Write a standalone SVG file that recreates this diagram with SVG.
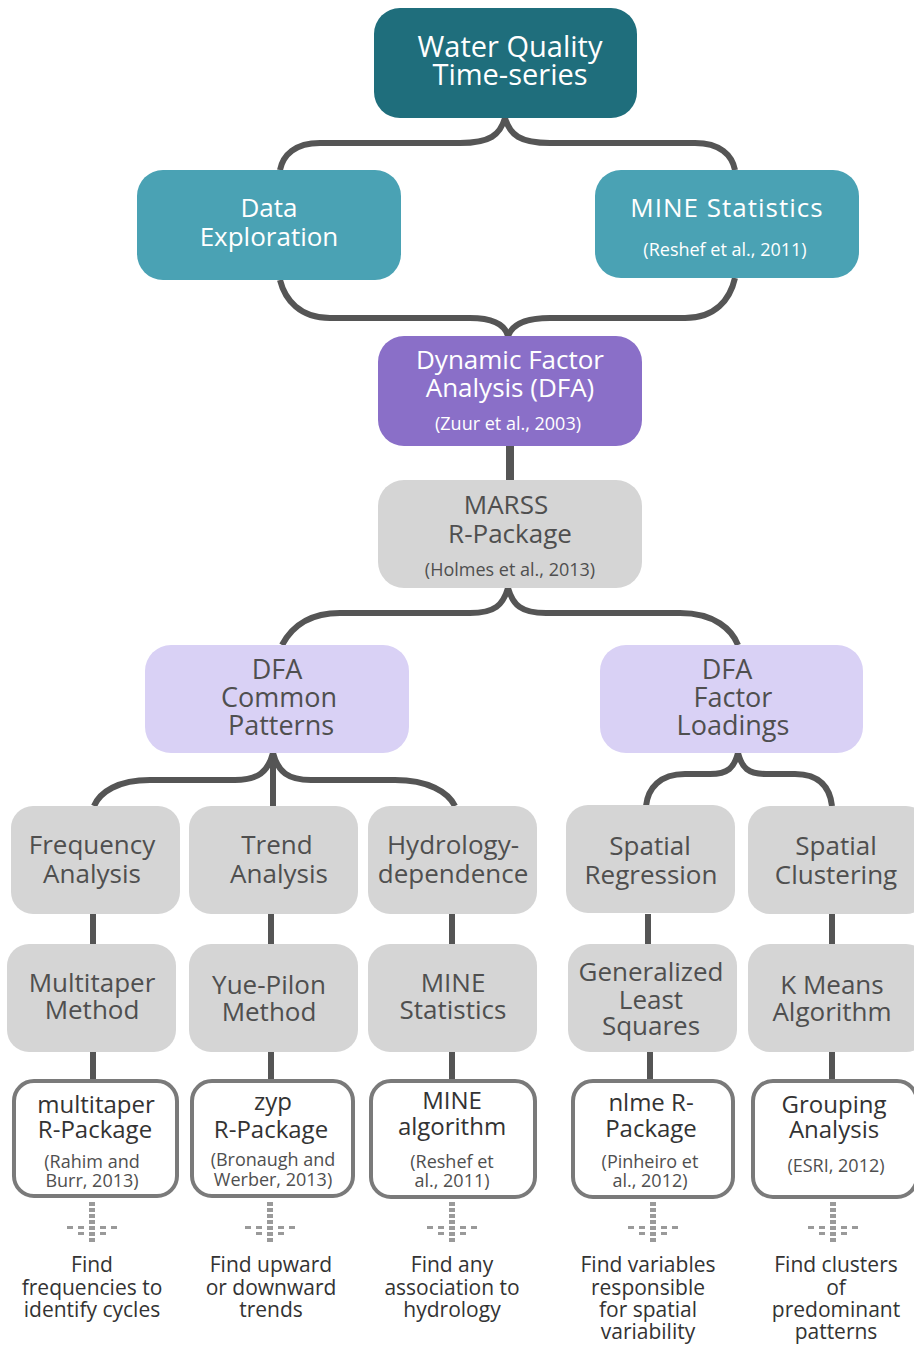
<svg xmlns="http://www.w3.org/2000/svg" width="914" height="1345" viewBox="0 0 914 1345">
<style>
.t{font-family:"Open Sans","Noto Sans","DejaVu Sans",sans-serif;text-anchor:middle}
.w{fill:#ffffff}
.g{fill:#4f4f4f}
.d{fill:#333333}
.h{font-size:27px}
.top{font-size:29px}
.m{font-size:26px}
.s{font-size:18px}
.b{font-size:24px}
.c{font-size:18px}
.x{font-size:21px}
.con{fill:none;stroke:#555555;stroke-width:6;stroke-linecap:butt}
.box3{fill:#ffffff;stroke:#7a7a7a;stroke-width:4}
.gray{fill:#d5d5d5}
.dot{fill:#9a9a9a}
</style>
<defs>
<g id="cross">
<rect x="-3" y="-23" width="6" height="4"/>
<rect x="-3" y="-17" width="6" height="4"/>
<rect x="-3" y="-11" width="6" height="4"/>
<rect x="-3" y="-5" width="6" height="4"/>
<rect x="-3" y="1" width="6" height="4"/>
<rect x="-3" y="7" width="6" height="4"/>
<rect x="-3" y="13" width="6" height="4"/>
<rect x="-25" y="1" width="6" height="3"/>
<rect x="-14" y="1" width="6" height="3"/>
<rect x="8" y="1" width="6" height="3"/>
<rect x="19" y="1" width="6" height="3"/>
<rect x="-14" y="7" width="6" height="3"/>
<rect x="8" y="7" width="6" height="3"/>
</g>
</defs>
<rect width="914" height="1345" fill="#ffffff"/>
<g id="connectors">
<path class="con" d="M505 118 C500 135 490 143 460 143 L320 143 C295 143 283 155 280 170"/>
<path class="con" d="M505 118 C510 135 520 143 550 143 L695 143 C720 143 732 155 735 170"/>
<path class="con" d="M280 280 C285 300 300 318 330 318 L470 318 C495 318 505 325 508 336"/>
<path class="con" d="M735 278 C730 300 715 318 685 318 L550 318 C525 318 512 325 508 336"/>
<path class="con" style="stroke-width:8" d="M510 446 L510 480"/>
<path class="con" d="M508 588 C503 605 495 613 470 613 L340 613 C305 613 290 630 282 645"/>
<path class="con" d="M508 588 C513 605 521 613 546 613 L680 613 C715 613 732 630 738 645"/>
<path class="con" d="M273 753 C268 772 258 780 235 780 L150 780 C118 780 100 792 94 806"/>
<path class="con" d="M273 753 L273 806"/>
<path class="con" d="M273 753 C278 772 288 780 311 780 L395 780 C428 780 448 792 455 806"/>
<path class="con" d="M738 753 C734 768 728 774 710 774 L685 774 C660 774 648 788 646 806"/>
<path class="con" d="M738 753 C742 768 748 774 766 774 L795 774 C820 774 830 788 832 806"/>
<path class="con" d="M93 914 L93 944 M271 914 L271 944 M452 914 L452 944 M648 914 L648 944 M832 914 L832 944"/>
<path class="con" d="M93 1052 L93 1080 M271 1052 L271 1080 M452 1052 L452 1080 M650 1052 L650 1080 M832 1052 L832 1080"/>
</g>
<g id="n-wq">
<rect x="374" y="8" width="263" height="110" rx="26" fill="#1f6e7c"/>
<text class="t w top" x="510" y="57">Water Quality</text>
<text class="t w top" x="510" y="85">Time-series</text>
</g>
<g id="n-de">
<rect x="137" y="170" width="264" height="110" rx="26" fill="#4aa2b4"/>
<text class="t w m" x="269" y="217">Data</text>
<text class="t w m" x="269" y="246">Exploration</text>
</g>
<g id="n-mine">
<rect x="595" y="170" width="264" height="108" rx="26" fill="#4aa2b4"/>
<text class="t w m" x="727" y="217" letter-spacing="1">MINE Statistics</text>
<text class="t w s" x="725" y="256">(Reshef et al., 2011)</text>
</g>
<g id="n-dfa">
<rect x="378" y="336" width="264" height="110" rx="26" fill="#8a6fc8"/>
<text class="t w m" x="510" y="369">Dynamic Factor</text>
<text class="t w m" x="510" y="397">Analysis (DFA)</text>
<text class="t w s" x="508" y="430">(Zuur et al., 2003)</text>
</g>
<g id="n-marss">
<rect x="378" y="480" width="264" height="108" rx="26" fill="#d5d5d5"/>
<text class="t g m" x="506" y="514">MARSS</text>
<text class="t g m" x="510" y="543">R-Package</text>
<text class="t g s" x="510" y="576">(Holmes et al., 2013)</text>
</g>
<g id="n-dfacp">
<rect x="145" y="645" width="264" height="108" rx="26" fill="#d9d1f5"/>
<text class="t g h" x="277" y="679">DFA</text>
<text class="t g h" x="279" y="707">Common</text>
<text class="t g h" x="281" y="735">Patterns</text>
</g>
<g id="n-dfafl">
<rect x="600" y="645" width="263" height="108" rx="26" fill="#d9d1f5"/>
<text class="t g h" x="727" y="679">DFA</text>
<text class="t g h" x="733" y="707">Factor</text>
<text class="t g h" x="733" y="735">Loadings</text>
</g>
<g id="n-freq">
<rect class="gray" x="11" y="806" width="169" height="108" rx="22"/>
<text class="t g m" x="92" y="854">Frequency</text>
<text class="t g m" x="92" y="883">Analysis</text>
</g>
<g id="n-trend">
<rect class="gray" x="189" y="806" width="169" height="108" rx="22"/>
<text class="t g m" x="277" y="854">Trend</text>
<text class="t g m" x="279" y="883">Analysis</text>
</g>
<g id="n-hydro">
<rect class="gray" x="368" y="806" width="169" height="108" rx="22"/>
<text class="t g m" x="453" y="854">Hydrology-</text>
<text class="t g m" x="453" y="883">dependence</text>
</g>
<g id="n-sreg">
<rect class="gray" x="566" y="805" width="169" height="108" rx="22"/>
<text class="t g m" x="650" y="855">Spatial</text>
<text class="t g m" x="651" y="884">Regression</text>
</g>
<g id="n-sclu">
<rect class="gray" x="748" y="806" width="180" height="108" rx="22"/>
<text class="t g m" x="836" y="855">Spatial</text>
<text class="t g m" x="836" y="884">Clustering</text>
</g>
<g id="n-multi">
<rect class="gray" x="7" y="944" width="169" height="108" rx="22"/>
<text class="t g m" x="92" y="992">Multitaper</text>
<text class="t g m" x="92" y="1019">Method</text>
</g>
<g id="n-yue">
<rect class="gray" x="189" y="944" width="169" height="108" rx="22"/>
<text class="t g m" x="269" y="994">Yue-Pilon</text>
<text class="t g m" x="269" y="1021">Method</text>
</g>
<g id="n-mines">
<rect class="gray" x="368" y="944" width="169" height="108" rx="22"/>
<text class="t g m" x="453" y="992">MINE</text>
<text class="t g m" x="453" y="1019">Statistics</text>
</g>
<g id="n-gls">
<rect class="gray" x="568" y="944" width="169" height="108" rx="22"/>
<text class="t g m" x="651" y="981">Generalized</text>
<text class="t g m" x="651" y="1009">Least</text>
<text class="t g m" x="651" y="1035">Squares</text>
</g>
<g id="n-kmeans">
<rect class="gray" x="748" y="944" width="180" height="108" rx="22"/>
<text class="t g m" x="832" y="994">K Means</text>
<text class="t g m" x="832" y="1021">Algorithm</text>
</g>
<g id="n-mtpkg">
<rect class="box3" x="14" y="1081" width="163" height="115" rx="20"/>
<text class="t d b" x="96" y="1113">multitaper</text>
<text class="t d b" x="95" y="1138">R-Package</text>
<text class="t g c" x="92" y="1168">(Rahim and</text>
<text class="t g c" x="92" y="1187">Burr, 2013)</text>
</g>
<g id="n-zyp">
<rect class="box3" x="192" y="1081" width="161" height="115" rx="20"/>
<text class="t d b" x="273" y="1110">zyp</text>
<text class="t d b" x="271" y="1138">R-Package</text>
<text class="t g c" x="273" y="1166">(Bronaugh and</text>
<text class="t g c" x="273" y="1186">Werber, 2013)</text>
</g>
<g id="n-minealg">
<rect class="box3" x="371" y="1081" width="164" height="116" rx="20"/>
<text class="t d b" x="452" y="1109">MINE</text>
<text class="t d b" x="452" y="1135">algorithm</text>
<text class="t g c" x="452" y="1168">(Reshef et</text>
<text class="t g c" x="452" y="1187">al., 2011)</text>
</g>
<g id="n-nlme">
<rect class="box3" x="573" y="1081" width="160" height="116" rx="20"/>
<text class="t d b" x="651" y="1111">nlme R-</text>
<text class="t d b" x="651" y="1137">Package</text>
<text class="t g c" x="650" y="1168">(Pinheiro et</text>
<text class="t g c" x="650" y="1187">al., 2012)</text>
</g>
<g id="n-group">
<rect class="box3" x="753" y="1081" width="164" height="116" rx="20"/>
<text class="t d b" x="834" y="1113">Grouping</text>
<text class="t d b" x="834" y="1138">Analysis</text>
<text class="t g c" x="836" y="1172">(ESRI, 2012)</text>
</g>
<g id="crosses" class="dot">
<use href="#cross" x="92" y="1225"/>
<use href="#cross" x="270" y="1225"/>
<use href="#cross" x="452" y="1225"/>
<use href="#cross" x="653" y="1225"/>
<use href="#cross" x="833" y="1225"/>
</g>
<g id="desc1">
<text class="t d x" x="92" y="1272">Find</text>
<text class="t d x" x="92" y="1295">frequencies to</text>
<text class="t d x" x="92" y="1317">identify cycles</text>
</g>
<g id="desc2">
<text class="t d x" x="271" y="1272">Find upward</text>
<text class="t d x" x="271" y="1295">or downward</text>
<text class="t d x" x="271" y="1317">trends</text>
</g>
<g id="desc3">
<text class="t d x" x="452" y="1272">Find any</text>
<text class="t d x" x="452" y="1295">association to</text>
<text class="t d x" x="452" y="1317">hydrology</text>
</g>
<g id="desc4">
<text class="t d x" x="648" y="1272">Find variables</text>
<text class="t d x" x="648" y="1295">responsible</text>
<text class="t d x" x="648" y="1317">for spatial</text>
<text class="t d x" x="648" y="1339">variability</text>
</g>
<g id="desc5">
<text class="t d x" x="836" y="1272">Find clusters</text>
<text class="t d x" x="836" y="1295">of</text>
<text class="t d x" x="836" y="1317">predominant</text>
<text class="t d x" x="836" y="1339">patterns</text>
</g>
</svg>
